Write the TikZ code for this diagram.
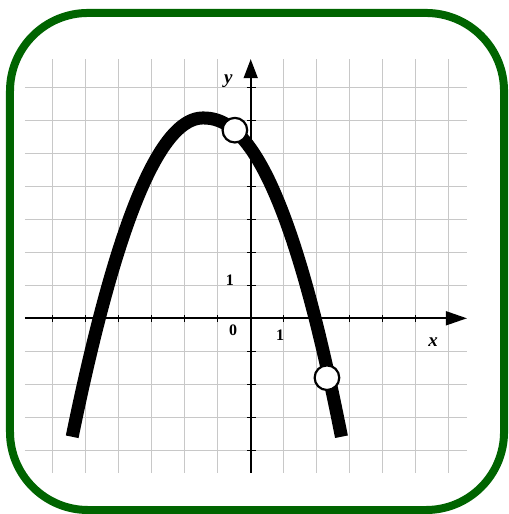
\documentclass[tikz,border=0pt]{standalone}
\usepackage{fontspec}
\setmainfont{Liberation Serif}
\usetikzlibrary{arrows.meta}
\definecolor{framegreen}{RGB}{0,100,0}
\definecolor{gridgray}{RGB}{200,200,200}
\begin{document}
\begin{tikzpicture}[x=33pt,y=33pt,
  gridline/.style={draw=gridgray,line width=1.3pt},
  axisline/.style={line width=1.8pt},
  tickmark/.style={line width=1.3pt},
  graphcurve/.style={line width=13pt,line join=round},
  hole/.style={circle,draw,fill=white,line width=2.2pt,minimum size=24.6pt,inner sep=0pt},
  numlabel/.style={font=\fontsize{16}{16}\selectfont\bfseries,inner sep=0pt},
  varlabel/.style={font=\fontsize{19}{19}\selectfont\bfseries\itshape,inner sep=0pt}]
\useasboundingbox (-7.597,-5.930) rectangle (7.797,9.645);
\draw[line width=8pt,draw=framegreen,rounded corners=78pt] (-7.294,-5.809) rectangle (7.676,9.252);
% grid
\foreach \i in {-6,...,6} \draw[gridline] (\i,-4.68) -- (\i,7.85);
\foreach \j in {-4,...,7} \draw[gridline] (-6.84,\j) -- (6.55,\j);
% axes
\coordinate (xl) at (-6.84,0);
\coordinate (xr) at (6.55,0);
\coordinate (yb) at (0,-4.68);
\coordinate (yt) at (0,7.85);
\draw[axisline,-{Triangle[length=21pt,width=14pt]}] (xl) -- (xr);
\draw[axisline,-{Triangle[length=19pt,width=14pt]}] (yb) -- (yt);
\foreach \i in {-6,...,-1,1,2,...,6} \draw[tickmark] (\i,-0.11) -- (\i,0.11);
\foreach \j in {-4,...,-1,1,2,...,7} \draw[tickmark] (-0.11,\j) -- (0.15,\j);
% labels
\node[varlabel] (ylab) at (-0.68,7.17) {y};
\node[varlabel] (xlab) at (5.53,-0.71) {x};
\node[numlabel] (zero) at (-0.53,-0.35) {0};
\node[numlabel] (onex) at (0.89,-0.51) {1};
\node[numlabel] (oney) at (-0.63,1.14) {1};
% curve
\draw[graphcurve]
  plot[domain=-5.41:-1.45,samples=60] (\x,{6.07-0.616*(\x+1.45)^2})
  -- plot[domain=-1.44:2.75,samples=60] (\x,{6.07-0.411*(\x+1.45)^2.2});
\node[hole] (h1) at (-0.48,5.70) {};
\node[hole] (h2) at (2.31,-1.80) {};
\end{tikzpicture}
\end{document}
